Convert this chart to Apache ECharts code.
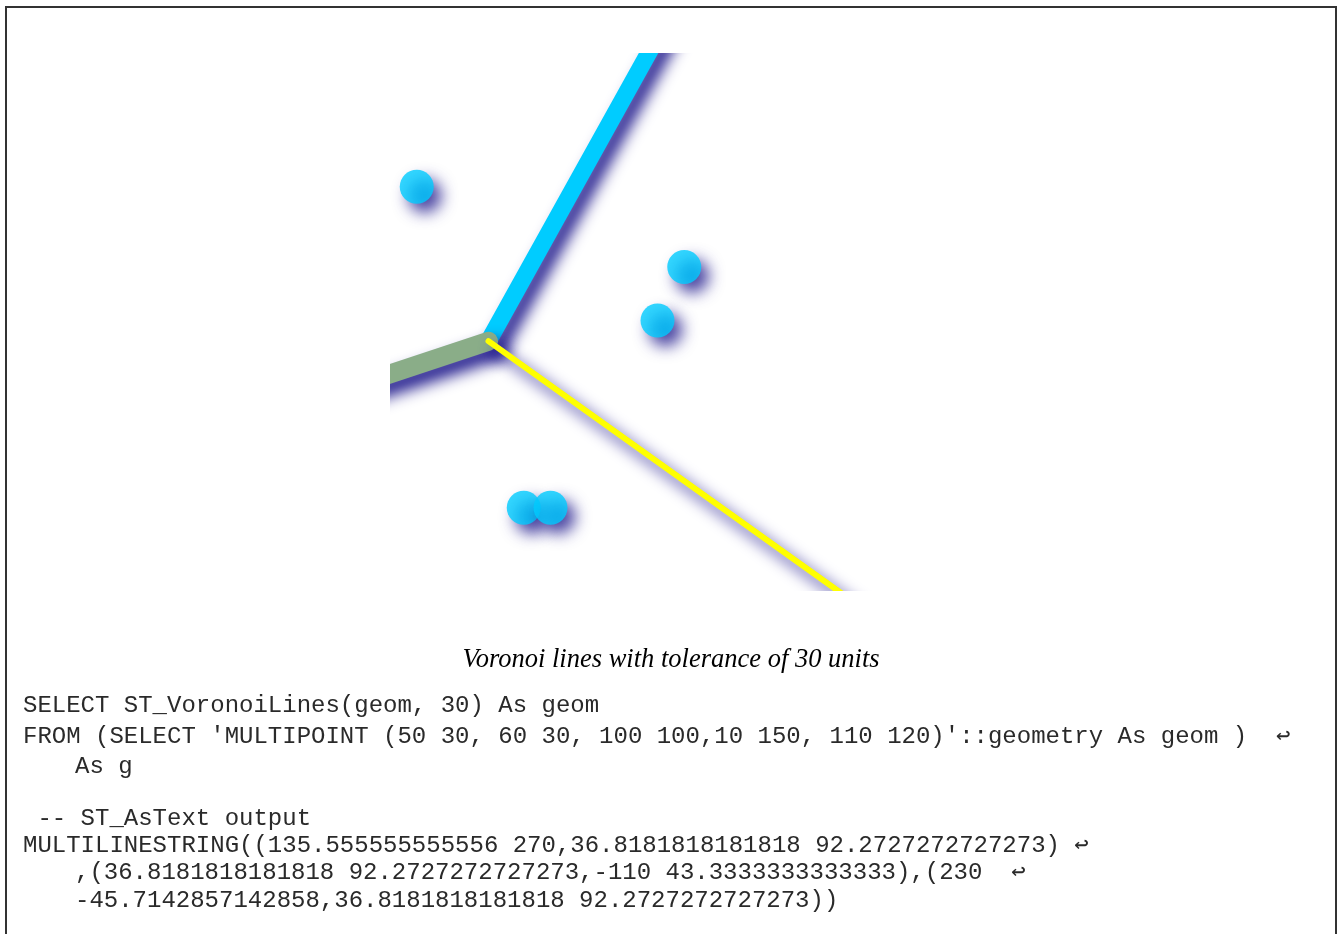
<!DOCTYPE html>
<html>
<head>
<meta charset="utf-8">
<title>Voronoi lines</title>
<script src="https://cdn.jsdelivr.net/npm/echarts@6/dist/echarts.min.js"></script>
<style>
  html, body { margin: 0; padding: 0; background: #fff; }
  #main { width: 1341px; height: 934px; }
</style>
</head>
<body>
<div id="main"></div>
<script>
// input points (MULTIPOINT)
var sitePoints = [[50, 30], [60, 30], [100, 100], [10, 150], [110, 120]];

// ST_VoronoiLines output, one edge per array
var edgeUpper = [[135.555555555556, 270], [36.8181818181818, 92.2727272727273]];
var edgeLeft = [[36.8181818181818, 92.2727272727273], [-110, 43.3333333333333]];
var edgeLower = [[230, -45.7142857142858], [36.8181818181818, 92.2727272727273]];

// extent of the drawing
var extentX = [0, 200];
var extentY = [0, 200];

var caption = "Voronoi lines with tolerance of 30 units";

var codeLines = [
  "SELECT ST_VoronoiLines(geom, 30) As geom",
  "FROM (SELECT 'MULTIPOINT (50 30, 60 30, 100 100,10 150, 110 120)'::geometry As geom )  \u21a9",
  "As g",
  "",
  " -- ST_AsText output",
  "MULTILINESTRING((135.555555555556 270,36.8181818181818 92.2727272727273) \u21a9",
  ",(36.8181818181818 92.2727272727273,-110 43.3333333333333),(230  \u21a9",
  "-45.7142857142858,36.8181818181818 92.2727272727273))"
];
// continuation lines are indented
var codeIndent = [false, false, true, false, false, false, true, true];

var shadowColor = "rgba(32, 26, 140, 1)";

function edgeSeries(data, color, width) {
  return {
    type: "line",
    data: data,
    showSymbol: false,
    clip: true,
    lineStyle: {
      color: color,
      width: width,
      cap: "round",
      shadowColor: shadowColor,
      shadowBlur: 15,
      shadowOffsetX: 8,
      shadowOffsetY: 9
    },
    silent: true
  };
}

var myChart = echarts.init(document.getElementById("main"));

var graphics = [
  // white masks: the picture is cut at its left and top edges
  {
    type: "rect",
    z: 100,
    shape: { x: 8, y: 8, width: 382, height: 620 },
    style: { fill: "#fff" }
  },
  {
    type: "rect",
    z: 100,
    shape: { x: 8, y: 8, width: 1326, height: 45 },
    style: { fill: "#fff" }
  },
  {
    type: "rect",
    z: 101,
    shape: { x: 6, y: 7, width: 1330, height: 960 },
    style: { fill: "none", stroke: "#333", lineWidth: 2 }
  },
  {
    type: "text",
    x: 671,
    y: 660,
    style: {
      text: caption,
      font: "italic 26.5px 'Liberation Serif', serif",
      fill: "#000",
      align: "center",
      verticalAlign: "middle"
    }
  }
];

var codeY = [706, 737, 767, 793, 819, 846, 873, 901];
codeLines.forEach(function (line, i) {
  if (!line) return;
  graphics.push({
    type: "text",
    x: codeIndent[i] ? 75 : 23,
    y: codeY[i],
    style: {
      text: line,
      font: "24px 'Liberation Mono', 'DejaVu Sans Mono', monospace",
      fill: "#2a2a2a",
      align: "left",
      verticalAlign: "middle"
    }
  });
});

var option = {
  animation: false,
  grid: { left: 390, top: 53, width: 535, height: 535 },
  xAxis: { type: "value", min: extentX[0], max: extentX[1], show: false },
  yAxis: { type: "value", min: extentY[0], max: extentY[1], show: false },
  series: [
    edgeSeries(edgeUpper, "#00ccff", 17),
    edgeSeries(edgeLeft, "#8aad88", 19),
    edgeSeries(edgeLower, "#ffff00", 6),
    {
      type: "scatter",
      data: sitePoints,
      symbolSize: 34,
      itemStyle: {
        color: "#00ccff",
        shadowColor: shadowColor,
        shadowBlur: 15,
        shadowOffsetX: 8,
        shadowOffsetY: 9
      },
      silent: true
    }
  ],
  graphic: graphics
};

option && myChart.setOption(option);
</script>
</body>
</html>
